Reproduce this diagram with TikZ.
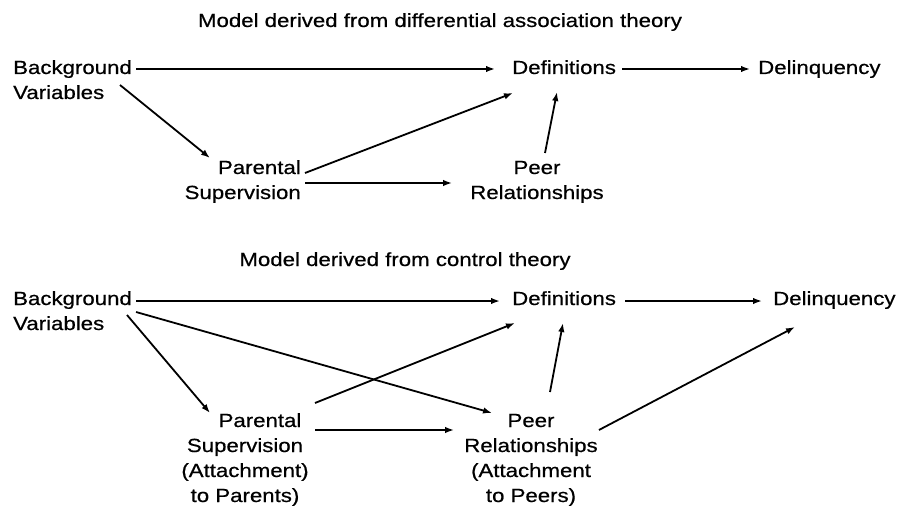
\documentclass[tikz,border=0pt]{standalone}
\usepackage{fontspec}
\setmainfont{Liberation Sans}[FakeStretch=1.17,FakeBold=0.6]
\usetikzlibrary{arrows.meta}
\begin{document}
\begin{tikzpicture}[x=1pt,y=-1pt,
  lbl/.style={inner sep=0pt, font=\fontsize{19}{25}\selectfont},
  link/.style={line width=1.8pt, -{Latex[length=9pt,width=6.5pt]}}]
\useasboundingbox (0,0) rectangle (899,508);

% ---- differential association model ----
% (base of a multi-line node = baseline of its last line)
\node[lbl, anchor=base] (titleA) at (440,27) {Model derived from differential association theory};
\node[lbl, anchor=base west, align=left] (bgA) at (13,99) {Background\\Variables};
\node[lbl, anchor=base west] (defA) at (512,74) {Definitions};
\node[lbl, anchor=base west] (delA) at (758,74) {Delinquency};
\node[lbl, anchor=base east, align=right] (parA) at (301,199) {Parental\\Supervision};
\node[lbl, anchor=base, align=center] (peerA) at (537,199) {Peer\\Relationships};

\draw[link] ([xshift=4pt,yshift=30pt]bgA.base east) -- ([xshift=-17pt,yshift=5pt]defA.base west);
\draw[link] ([xshift=6pt,yshift=5pt]defA.base east) -- ([xshift=-8pt,yshift=5pt]delA.base west);
\draw[link] ([xshift=107pt,yshift=14pt]bgA.base west) -- ([xshift=-91pt,yshift=41pt]parA.base east);
\draw[link] ([xshift=4pt,yshift=26pt]parA.base east) -- ([xshift=1pt,yshift=-19pt]defA.base west);
\draw[link] ([xshift=4pt,yshift=16pt]parA.base east) -- ([xshift=-18pt,yshift=16pt]peerA.base west);
\draw[link] ([xshift=8pt,yshift=46pt]peerA.base) -- ([xshift=45pt,yshift=-18pt]defA.base west);

% ---- control model ----
\node[lbl, anchor=base] (titleB) at (405,266) {Model derived from control theory};
\node[lbl, anchor=base west, align=left] (bgB) at (13,330) {Background\\Variables};
\node[lbl, anchor=base west] (defB) at (512,305) {Definitions};
\node[lbl, anchor=base west] (delB) at (773,305) {Delinquency};
\node[lbl, anchor=base, align=center] (parB) at (245,502) {\hspace*{30pt}Parental\\Supervision\\(Attachment)\\to Parents)};
\node[lbl, anchor=base, align=center] (peerB) at (531,502) {Peer\\Relationships\\(Attachment\\to Peers)};

\draw[link] ([xshift=4pt,yshift=29pt]bgB.base east) -- ([xshift=-12pt,yshift=4pt]defB.base west);
\draw[link] ([xshift=9pt,yshift=4pt]defB.base east) -- ([xshift=-11pt,yshift=4pt]delB.base west);
\draw[link] ([xshift=4pt,yshift=18pt]bgB.base east) -- ([xshift=28pt,yshift=89pt]peerB.base west);
\draw[link] ([xshift=114pt,yshift=15pt]bgB.base west) -- ([xshift=-35pt,yshift=89pt]parB.base);
\draw[link] ([xshift=70pt,yshift=99pt]parB.base) -- ([xshift=3pt,yshift=-18pt]defB.base west);
\draw[link] ([xshift=70pt,yshift=72pt]parB.base) -- ([xshift=-10pt,yshift=72pt]peerB.base west);
\draw[link] ([xshift=19pt,yshift=110pt]peerB.base) -- ([xshift=51pt,yshift=-18pt]defB.base west);
\draw[link] ([xshift=1pt,yshift=72pt]peerB.base east) -- ([xshift=22pt,yshift=-22pt]delB.base west);
\end{tikzpicture}
\end{document}
